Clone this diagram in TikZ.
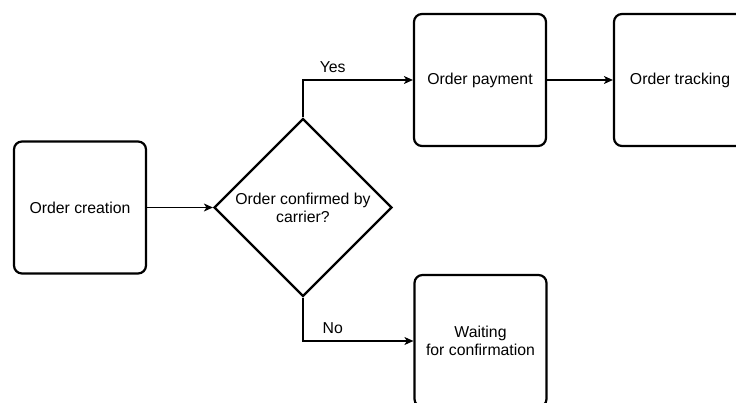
\documentclass[tikz,border=0pt]{standalone}
\usepackage{fontspec}
\setmainfont{Liberation Sans}
\usetikzlibrary{shapes.geometric,arrows.meta}
\begin{document}
\begin{tikzpicture}[x=1pt,y=-1pt,
  every node/.style={font=\fontsize{15.8}{18}\selectfont, text=black},
  stepbox/.style={draw=black, line width=2.2pt, rounded corners=8pt,
    minimum width=132pt, minimum height=132pt, inner sep=0pt, align=center},
  decision/.style={draw=black, line width=2.2pt, shape=diamond,
    minimum width=178pt, minimum height=178pt, inner sep=0pt, align=center},
  flow/.style={draw=black, line width=1.1pt,
    -{Stealth[length=9pt,width=8pt,inset=2.5pt]}},
  edgelabel/.style={font=\fontsize{15.8}{18}\selectfont, inner sep=0pt}
]
\useasboundingbox (0,0) rectangle (736,403);
\clip (0,0) rectangle (736,403);

% process steps
\node[stepbox] (create) at (80,207.5) {Order creation};
\node[decision] (confirm) at (303,207.5) {Order confirmed by\\carrier?};
\node[stepbox] (pay) at (480,80) {Order payment};
\node[stepbox] (track) at (680,80) {Order tracking};
\node[stepbox] (wait) at (480.5,341) {Waiting\\for confirmation};

% connectors
\draw[flow] (create.east) -- (confirm.west);
\draw[flow] (confirm.north) |- (pay.west)
  node[edgelabel, pos=0.635, above=7pt] {Yes};
\draw[flow] (confirm.south) |- (wait.west)
  node[edgelabel, pos=0.635, above=7pt] {No};
\draw[flow] (pay.east) -- (track.west);
\end{tikzpicture}
\end{document}
